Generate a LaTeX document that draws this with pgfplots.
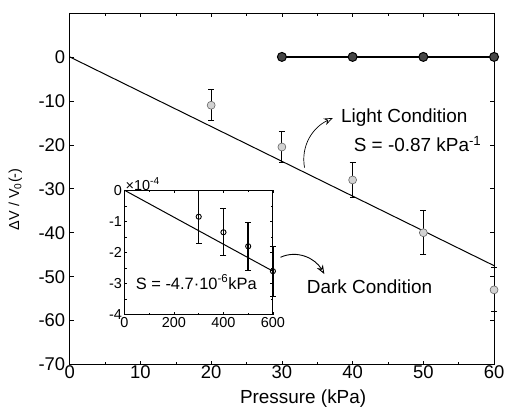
\documentclass[border=0pt]{standalone}
\usepackage{fontspec}
\setmainfont{Liberation Sans}
\usepackage{pgfplots}
\pgfplotsset{compat=1.18}
\usetikzlibrary{arrows.meta}
\begin{document}
\begin{tikzpicture}
\useasboundingbox (-70pt,-46pt) rectangle (440pt,366pt);
\begin{axis}[at={(0,0)}, anchor=south west, scale only axis,
  width=426pt, height=353pt,
  xmin=0, xmax=60, ymin=-70, ymax=10,
  xtick={0,10,...,60}, minor x tick num=1,
  ytick={-70,-60,...,0},
  tick align=inside, major tick length=4pt, minor tick length=3pt,
  axis line style={black, line width=0.9pt},
  tick style={black, line width=0.6pt},
  /pgf/number format/assume math mode=true,
  tick label style={font=\fontsize{18.5}{20}\selectfont},
  xticklabel style={yshift=2pt}, yticklabel style={xshift=-1pt},
  xlabel style={font=\fontsize{19}{21}\selectfont, at={(axis description cs:0.55,0)}, anchor=north, yshift=-22pt},
  ylabel style={font=\fontsize{14.5}{17}\selectfont, at={(axis description cs:-0.128,0.47)}, anchor=center},
  xlabel={Pressure (kPa)}, ylabel={ΔV / V\textsubscript{0}(-)},
  clip=false]
\addplot[black, line width=1pt] coordinates {(0,0) (60,-47.5)};
\addplot[only marks, mark=*, mark size=4pt,
  mark options={fill=gray!35, draw=gray!80!black, line width=0.6pt},
  error bars/.cd, y dir=both, y explicit,
  error bar style={black, line width=0.8pt},
  error mark options={rotate=90, mark size=3pt, black, line width=0.8pt}]
  coordinates {(20,-11) +- (0,3.5) (30,-20.5) +- (0,3.5) (40,-28) +- (0,4)
               (50,-40) +- (0,5) (60,-53) +- (0,5)};
\addplot[black, line width=1.6pt, mark=*, mark size=4.5pt,
  mark options={fill=gray!55!black, draw=black, line width=1pt}]
  coordinates {(30,0) (40,0) (50,0) (60,0)};
\node[anchor=center, font=\fontsize{19}{21}\selectfont] at (axis cs:47.3,-13.8) {Light Condition};
\node[anchor=east, font=\fontsize{19}{21}\selectfont] at (axis cs:58.7,-19.9) {S = -0.87 kPa\textsuperscript{-1}};
\draw[black, line width=0.7pt, -{Stealth[open, length=9pt, width=7pt]}] (axis cs:33.2,-25.2) to[out=100,in=205] (axis cs:37.2,-13.9);
\node[anchor=center, font=\fontsize{19}{21}\selectfont] at (axis cs:42.4,-52.3) {Dark Condition};
\draw[black, line width=0.9pt, -{Stealth[open, length=9pt, width=7pt]}] (axis cs:29.8,-45.6) to[out=25,in=120] (axis cs:36.0,-49.4);
\end{axis}
\begin{axis}[at={(55pt,50pt)}, anchor=south west, scale only axis,
  width=149pt, height=125pt,
  xmin=0, xmax=600, ymin=-4, ymax=0,
  xtick={0,200,400,600}, ytick={-4,-3,...,0},
  minor x tick num=1, minor y tick num=1,
  tick align=inside, major tick length=3pt, minor tick length=2pt,
  axis background/.style={fill=white},
  axis line style={black, line width=0.9pt},
  tick style={black, line width=0.6pt},
  /pgf/number format/assume math mode=true,
  tick label style={font=\fontsize{14.5}{16}\selectfont},
  xticklabel style={yshift=1pt}, yticklabel style={xshift=1pt},
  clip=false]
\addplot[black, line width=1pt] coordinates {(0,0) (600,-2.6)};
\addplot[only marks, mark=o, mark size=2.6pt,
  mark options={black, fill=white, line width=0.9pt},
  error bars/.cd, y dir=both, y explicit,
  error bar style={black, line width=1.4pt},
  error mark options={rotate=90, mark size=3pt, black, line width=0.9pt}]
  coordinates {(300,-0.85) +- (0,0.85) (400,-1.35) +- (0,0.75)
               (500,-1.8) +- (0,0.78) (600,-2.6) +- (0,0.8)};
\node[anchor=south west, inner sep=1pt, font=\fontsize{14.5}{16}\selectfont] at (rel axis cs:0,0.99) {×10\textsuperscript{-4}};
\node[anchor=center, font=\fontsize{16.5}{18}\selectfont] at (axis cs:290,-2.95) {S = -4.7·10\textsuperscript{-6}kPa};
\end{axis}
\end{tikzpicture}
\end{document}
